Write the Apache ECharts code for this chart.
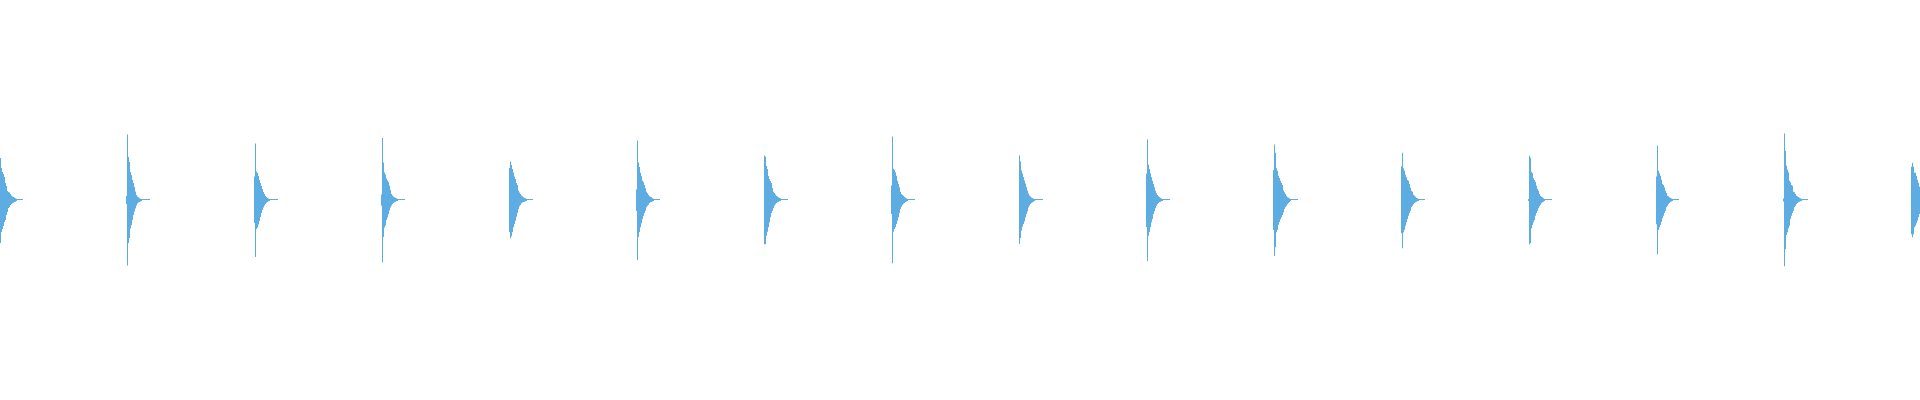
<!DOCTYPE html>
<html>
<head>
<meta charset="utf-8">
<script src="https://cdn.jsdelivr.net/npm/echarts@6/dist/echarts.min.js"></script>
<style>
html,body{margin:0;padding:0;background:#fff;}
#chart{width:1920px;height:400px;}
</style>
</head>
<body>
<div id="chart"></div>
<script>
// Sample index of each burst's main spike (one category per pixel column)
const spikeAt = [-1, 127, 255, 382, 510, 637, 764, 892, 1019, 1147, 1274, 1402, 1529, 1657, 1784, 1912];

// Upper envelope of each burst: [sample before spike, spike, following samples...]
const upper = [
  [0, 62, 42, 32, 28, 26, 23, 17, 14, 9, 8, 7.5, 6, 4.5, 3.5, 3, 2.5, 1.8, 1.2, 1, 1, 1, 1, 1, 1],
  [4, 65.5, 43, 38, 28, 25, 20, 17, 13, 8.5, 5, 3.5, 2.7, 1.8, 1.3, 1, 1, 1, 1, 1, 1, 1, 1, 1],
  [23.5, 56.5, 28.5, 27, 24, 20, 17, 14, 11, 8, 6, 4, 3, 2, 1.5, 1, 1, 1, 1, 1, 1, 1, 1, 1],
  [5.5, 62, 37.5, 27.5, 25.5, 21.5, 19.5, 18, 14.5, 10, 6, 4.5, 3.5, 2.7, 2.3, 1.7, 1.3, 1, 1, 1, 1, 1, 1, 1],
  [32, 38.5, 35, 31, 27.5, 23.5, 21, 17, 15, 9.5, 7.5, 6, 4.5, 3.7, 2.7, 2.3, 1.7, 1.3, 1, 1, 1, 1, 1, 1],
  [10.5, 59.5, 37.5, 33, 27.3, 23.7, 19.3, 17.7, 15, 11.7, 8.3, 6.7, 5.3, 3.7, 3.2, 2.7, 1.8, 1.3, 1, 1, 1, 1, 1, 1],
  [0, 44.5, 43.3, 34, 31, 24, 21, 19, 17, 12, 8.3, 7, 5.5, 4.3, 3.5, 2.7, 2, 1.7, 1, 1, 1, 1, 1, 1, 1],
  [14.5, 63.5, 31.3, 30, 27.7, 24.3, 19.3, 16, 12.7, 8.3, 6, 5, 4.3, 3.3, 2.3, 1.7, 1, 1, 1, 1, 1, 1, 1, 1],
  [0, 44.5, 38.5, 29.5, 26.5, 23, 19.5, 16.5, 13, 9.5, 6.5, 4.5, 3.5, 2.5, 2, 1.3, 1, 1, 1, 1, 1, 1, 1, 1, 1],
  [26.5, 60.5, 35.3, 31, 26.7, 22.7, 19.3, 16, 12.7, 9.3, 6.7, 5, 3.7, 3, 2, 1.5, 1, 1, 1, 1, 1, 1, 1, 1],
  [30, 55.5, 47.3, 31.7, 29.3, 24.3, 22, 19.3, 17, 15, 9.7, 7.7, 6, 4.3, 2.7, 2.2, 1.7, 1, 1, 1, 1, 1, 1, 1, 1],
  [33.7, 47.3, 31.7, 29.3, 25.3, 22.7, 20, 19.3, 16, 12.3, 9.3, 8.3, 5.3, 4.3, 3.3, 2, 1.7, 1, 1, 1, 1, 1, 1, 1],
  [1, 44.3, 42.3, 28.3, 26.7, 21.7, 20, 18.3, 14.3, 11, 9.3, 6, 4.3, 3.3, 2.7, 1.7, 1, 1, 1, 1, 1, 1, 1, 1],
  [23.5, 54.5, 29.3, 26.7, 24.3, 20.3, 16, 15, 12.7, 9.3, 7, 4.3, 3.7, 2.7, 2, 1.5, 1, 1, 1, 1, 1, 1, 1],
  [1.5, 66.5, 49.3, 34.3, 30.3, 27.7, 19.3, 17.7, 15, 14.3, 8.3, 7.7, 6, 4.3, 3.7, 3, 2.3, 1.7, 1, 1, 1, 1, 1, 1, 1],
  [33.3, 37.3, 33.3, 27.3, 27.3, 24.3, 20.3, 17.3, 13.3, 10, 7, 5, 3.5, 2.5, 1.5, 1, 1]
];

// Lower envelope of each burst (magnitudes below the zero line)
const lower = [
  [0, 62, 43, 32, 29, 26, 22, 20, 15, 12, 8, 7, 5, 4, 3.3, 2.7, 2, 1.7, 1, 0, 0, 0, 0, 0, 0],
  [4, 65.5, 43, 38, 28.5, 25, 20, 15, 11.5, 8.5, 5.5, 3.5, 2.5, 2, 1.5, 1, 0, 0, 0, 0, 0, 0, 0, 0],
  [23, 57, 29, 27.5, 24.5, 21, 17, 13, 10, 7.5, 5.5, 4, 2.7, 2, 1.3, 1, 0, 0, 0, 0, 0, 0, 0, 0],
  [5.8, 62.5, 37, 27.5, 25.5, 20, 17.5, 14, 10.5, 7.5, 5.5, 4, 3, 2.3, 1.8, 1.3, 1, 0, 0, 0, 0, 0, 0, 0],
  [32, 38.3, 36.3, 32.3, 27.3, 24, 20.7, 16.7, 13, 9, 6.3, 5, 3.3, 2.5, 2, 1.7, 1.3, 1, 0, 0, 0, 0, 0, 0],
  [11, 60, 37, 32, 27.3, 23.3, 19, 15.7, 13, 10.7, 7.3, 5.7, 4.7, 3, 2.3, 2, 1.5, 1, 0, 0, 0, 0, 0, 0],
  [0, 44.3, 44.3, 35.7, 31.7, 27.3, 22.3, 17.3, 13, 10.7, 8.3, 5.7, 4.3, 3, 2.3, 1.7, 1.3, 1, 0, 0, 0, 0, 0, 0, 0],
  [14, 63.3, 31.7, 29, 27.3, 24, 20.7, 17.3, 13, 9, 6.7, 5, 3.7, 3, 2, 1.5, 1, 0, 0, 0, 0, 0, 0, 0],
  [0, 44, 38, 30.5, 26.7, 24, 21.5, 17.5, 14, 11.5, 7.5, 5.5, 4, 3, 2.3, 1.7, 1, 0, 0, 0, 0, 0, 0, 0, 0],
  [27, 61, 35.7, 31.7, 27.3, 22.3, 19, 14, 11.3, 8.3, 5.7, 4.3, 3, 2, 1.7, 1.3, 1, 0, 0, 0, 0, 0, 0, 0],
  [30, 56, 47.3, 32.3, 29.7, 24.7, 22, 19.3, 17.3, 15, 12.3, 9, 7.3, 5.7, 4.3, 3, 2, 1, 0, 0, 0, 0, 0, 0, 0],
  [33.3, 48.3, 32.3, 29.7, 25.7, 22.3, 19, 15.7, 13, 10.7, 7.3, 5.7, 4.3, 3, 2.3, 1.7, 1.3, 1, 0, 0, 0, 0, 0, 0],
  [1, 44.3, 43, 28.3, 25, 22.3, 20, 15.7, 13, 10.7, 8.3, 6.3, 4.7, 3.3, 2.3, 1.7, 1, 0, 0, 0, 0, 0, 0, 0],
  [24.3, 54.3, 30, 27.3, 25, 21.7, 18, 15.7, 13, 10.7, 7.3, 5.7, 4.3, 3, 2, 1.5, 1, 0, 0, 0, 0, 0, 0],
  [1.5, 66.3, 49.3, 35, 32.3, 28.3, 25.7, 19, 15.7, 13, 10.7, 7.3, 5.7, 4.3, 3, 2.3, 1.7, 1.3, 1, 0, 0, 0, 0, 0, 0],
  [34.3, 37.3, 34.3, 27.3, 25.7, 23.3, 20.7, 17.3, 14, 10.7, 7.5, 5.5, 4, 2.7, 2, 1, 0]
];

const sampleCount = 1920;
const categories = [];
for (let i = 0; i < sampleCount; i++) categories.push(String(i));

const upData = new Array(sampleCount).fill(0);
const dnData = new Array(sampleCount).fill(0);
spikeAt.forEach(function (s, k) {
  upper[k].forEach(function (v, j) {
    const idx = s - 1 + j;
    if (idx >= 0 && idx < sampleCount) upData[idx] = v;
  });
  lower[k].forEach(function (v, j) {
    const idx = s - 1 + j;
    if (idx >= 0 && idx < sampleCount) dnData[idx] = -v;
  });
});

const chart = echarts.init(document.getElementById('chart'), null, {renderer: 'canvas'});
chart.setOption({
  animation: false,
  backgroundColor: '#ffffff',
  grid: {left: 0, right: 0, top: 0, bottom: 0},
  xAxis: {
    type: 'category',
    data: categories,
    show: false
  },
  yAxis: {
    type: 'value',
    min: -200,
    max: 200,
    show: false
  },
  series: [
    {
      name: 'upper',
      type: 'bar',
      data: upData,
      large: true,
      largeThreshold: 100,
      barWidth: '100%',
      barGap: '-100%',
      barCategoryGap: '0%',
      itemStyle: {color: '#5DADE2'}
    },
    {
      name: 'lower',
      type: 'bar',
      data: dnData,
      large: true,
      largeThreshold: 100,
      barWidth: '100%',
      barGap: '-100%',
      barCategoryGap: '0%',
      itemStyle: {color: '#5DADE2'}
    }
  ]
});
</script>
</body>
</html>
